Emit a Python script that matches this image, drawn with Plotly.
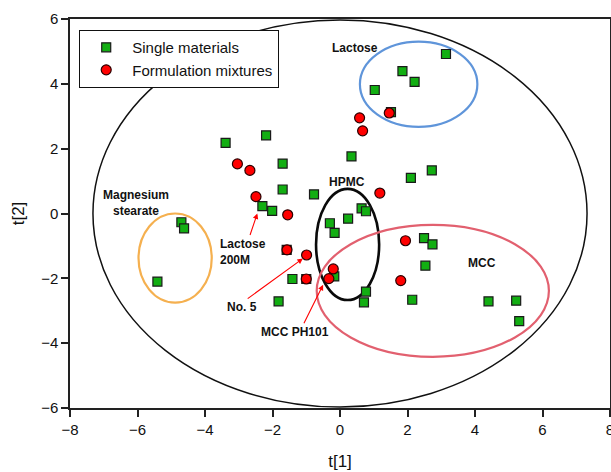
import plotly.graph_objects as go

# Single materials (green squares)
single_t1 = [-3.39, -2.19, -1.70, -1.70, -0.77, -2.30, -2.01, -4.70, -4.62,
             3.14, 1.85, 2.21, 1.03, 1.51, 0.34, 2.72, 2.10,
             0.64, 0.77, 0.24, -0.30, -0.16, 2.49, 2.74, 2.53,
             -5.41, -1.41, -1.82, -1.58, -1.00, -0.17,
             0.77, 0.71, 2.14, 4.40, 5.22, 5.31]
single_t2 = [2.18, 2.41, 1.54, 0.74, 0.59, 0.23, 0.08, -0.27, -0.46,
             4.92, 4.39, 4.06, 3.81, 3.13, 1.76, 1.33, 1.10,
             0.16, 0.07, -0.16, -0.30, -0.60, -0.76, -0.95, -1.61,
             -2.10, -2.02, -2.71, -1.12, -2.02, -1.94,
             -2.41, -2.74, -2.66, -2.71, -2.69, -3.32]

# Formulation mixtures (red circles)
mix_t1 = [-3.04, -2.67, -2.49, -1.55, 1.46, 0.58, 0.67, 1.18, 1.94,
          -1.57, -0.99, -1.00, -0.20, -0.33, 1.80]
mix_t2 = [1.53, 1.33, 0.52, -0.04, 3.10, 2.95, 2.55, 0.63, -0.84,
          -1.12, -1.28, -2.02, -1.71, -2.01, -2.07]

# Ellipses
ellipse_names = ["T2", "Lactose", "Magnesium stearate", "HPMC", "MCC"]
ellipse_x0 = [-7.32, 0.59, -5.97, -0.71, -0.69]
ellipse_x1 = [7.32, 4.07, -3.80, 1.16, 6.19]
ellipse_y0 = [-5.97, 2.67, -2.75, -2.67, -4.42]
ellipse_y1 = [5.97, 5.30, 0.00, 0.76, -0.35]
ellipse_colors = ["#111111", "#5F95DA", "#F5B04F", "#0A0A0A", "#E2606F"]
ellipse_widths = [1.5, 2.2, 2.2, 2.6, 2.2]

# Text labels
label_texts = ["Lactose", "HPMC", "Magnesium<br>stearate", "MCC"]
label_x = [0.44, 0.20, -6.03, 4.20]
label_y = [5.10, 0.96, 0.31, -1.54]

# Arrow labels
arrow_texts = ["Lactose<br>200M", "No. 5", "MCC PH101"]
arrow_tail_x = [-2.68, -2.78, -1.09]
arrow_tail_y = [-0.71, -2.66, -3.43]
arrow_head_x = [-2.45, -1.10, -0.50]
arrow_head_y = [0.00, -1.39, -2.20]
arrow_label_x = [-3.61, -2.90, -1.34]
arrow_label_y = [-1.18, -2.87, -3.64]

FONT = "Arial, Liberation Sans, sans-serif"

fig = go.Figure()
fig.add_trace(go.Scatter(
    x=single_t1, y=single_t2, mode="markers", name="Single materials",
    marker=dict(symbol="square", size=9, color="#12AE12",
                line=dict(color="#1a1a1a", width=1.2))))
fig.add_trace(go.Scatter(
    x=mix_t1, y=mix_t2, mode="markers", name="Formulation mixtures",
    marker=dict(symbol="circle", size=10, color="#FF0000",
                line=dict(color="#2a0000", width=1.2))))

for i in range(len(ellipse_names)):
    fig.add_shape(type="circle", xref="x", yref="y",
                  x0=ellipse_x0[i], x1=ellipse_x1[i],
                  y0=ellipse_y0[i], y1=ellipse_y1[i],
                  line=dict(color=ellipse_colors[i], width=ellipse_widths[i]),
                  layer="below")

for t, x, y in zip(label_texts, label_x, label_y):
    fig.add_annotation(x=x, y=y, text="<b>" + t + "</b>", showarrow=False,
                       font=dict(family=FONT, size=12, color="#111"),
                       xanchor="center", yanchor="middle")

for i in range(len(arrow_texts)):
    fig.add_annotation(x=arrow_head_x[i], y=arrow_head_y[i],
                       ax=arrow_tail_x[i], ay=arrow_tail_y[i],
                       axref="x", ayref="y", text="", showarrow=True,
                       arrowhead=2, arrowsize=1, arrowwidth=1.1,
                       arrowcolor="#FF0000")
xa = ["left", "center", "center"]
for i in range(len(arrow_texts)):
    fig.add_annotation(x=arrow_label_x[i], y=arrow_label_y[i],
                       text="<b>" + arrow_texts[i] + "</b>", showarrow=False,
                       font=dict(family=FONT, size=12, color="#111"),
                       xanchor=xa[i], yanchor="middle", align="left")

axis_common = dict(showgrid=False, zeroline=False, showline=True,
                   linecolor="#222", linewidth=1.5, mirror=True,
                   ticks="outside", ticklen=7, tickwidth=1.5, tickcolor="#222",
                   tickfont=dict(family=FONT, size=15, color="#111"),
                   dtick=2, automargin=False, ticklabeloverflow="allow")

fig.update_layout(
    width=611, height=472,
    margin=dict(l=70, r=1, t=19, b=64),
    paper_bgcolor="white", plot_bgcolor="white",
    font=dict(family=FONT, color="#111"),
    xaxis=dict(range=[-8, 8], tick0=-8,
               title=dict(text="t[1]", font=dict(family=FONT, size=17), standoff=18),
               **axis_common),
    yaxis=dict(range=[-6, 6], tick0=-6,
               title=dict(text="t[2]", font=dict(family=FONT, size=17), standoff=12),
               **axis_common),
    legend=dict(x=0.0167, y=0.972, xanchor="left", yanchor="top",
                bgcolor="white", bordercolor="#111", borderwidth=1.2,
                font=dict(family=FONT, size=15, color="#111"),
                itemwidth=42, tracegroupgap=0),
    showlegend=True,
)

fig.write_html("out.html", config={"displayModeBar": False},
               post_script="document.body.style.margin='0px';document.body.style.overflow='hidden';")
